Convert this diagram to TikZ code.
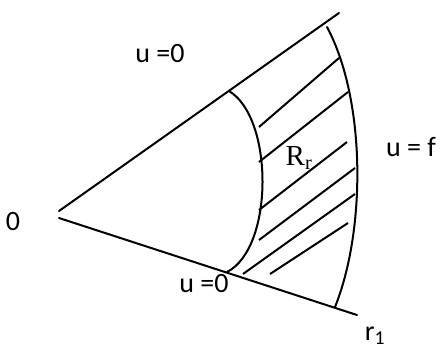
\documentclass[tikz,border=0pt]{standalone}
\usepackage{fontspec}
\setmainfont{Carlito}
\newfontfamily\serifrm{Liberation Serif}
\usetikzlibrary{positioning}

\begin{document}
\begin{tikzpicture}[
  x=1pt, y=-1pt,
  edge/.style={line width=2pt, line cap=round},
  hatch/.style={line width=2pt},
  lbl/.style={font=\fontsize{28}{30}\selectfont, inner sep=0pt, anchor=center}
]
\useasboundingbox (0,0) rectangle (441,349);

% Wedge
\coordinate (apexup) at (59,211);
\coordinate (apexdn) at (59,218);
\coordinate (upend) at (339,13);
\coordinate (dnend) at (357,315);
\draw[edge] (apexup) -- (upend);
\draw[edge] (apexdn) -- (dnend);

% Inner and outer arcs
\coordinate (intop) at (229,91);
\coordinate (inbot) at (227,272);
\coordinate (outtop) at (327,27);
\coordinate (outbot) at (335,307);
\draw[edge] (intop) .. controls (274,118) and (274,248) .. (inbot);
\draw[edge] (outtop) .. controls (366,100) and (366,230) .. (outbot);

% Hatching
\foreach \xa/\ya/\xb/\yb in {259/127/339/58, 259/162/348/92, 259/210/347/142,
                             259/240/355/168, 243/274/355/194, 270/274/348/223}
  \draw[hatch] (\xa,\ya) -- (\xb,\yb);

% Labels
\node[lbl] (uzerotop) at (160,54) {u =0};
\node[lbl] (uzerobot) at (204,284) {u =0};
\node[lbl] (origin) at (13,222) {0};
\node[lbl] (uf) at (411,147) {u = f};
\node[lbl, font=\fontsize{29}{30}\serifrm] (region) at (299,158) {R\textsubscript{r}};
\node[lbl] (rone) at (375,336) {r\textsubscript{1}};

\end{tikzpicture}
\end{document}
